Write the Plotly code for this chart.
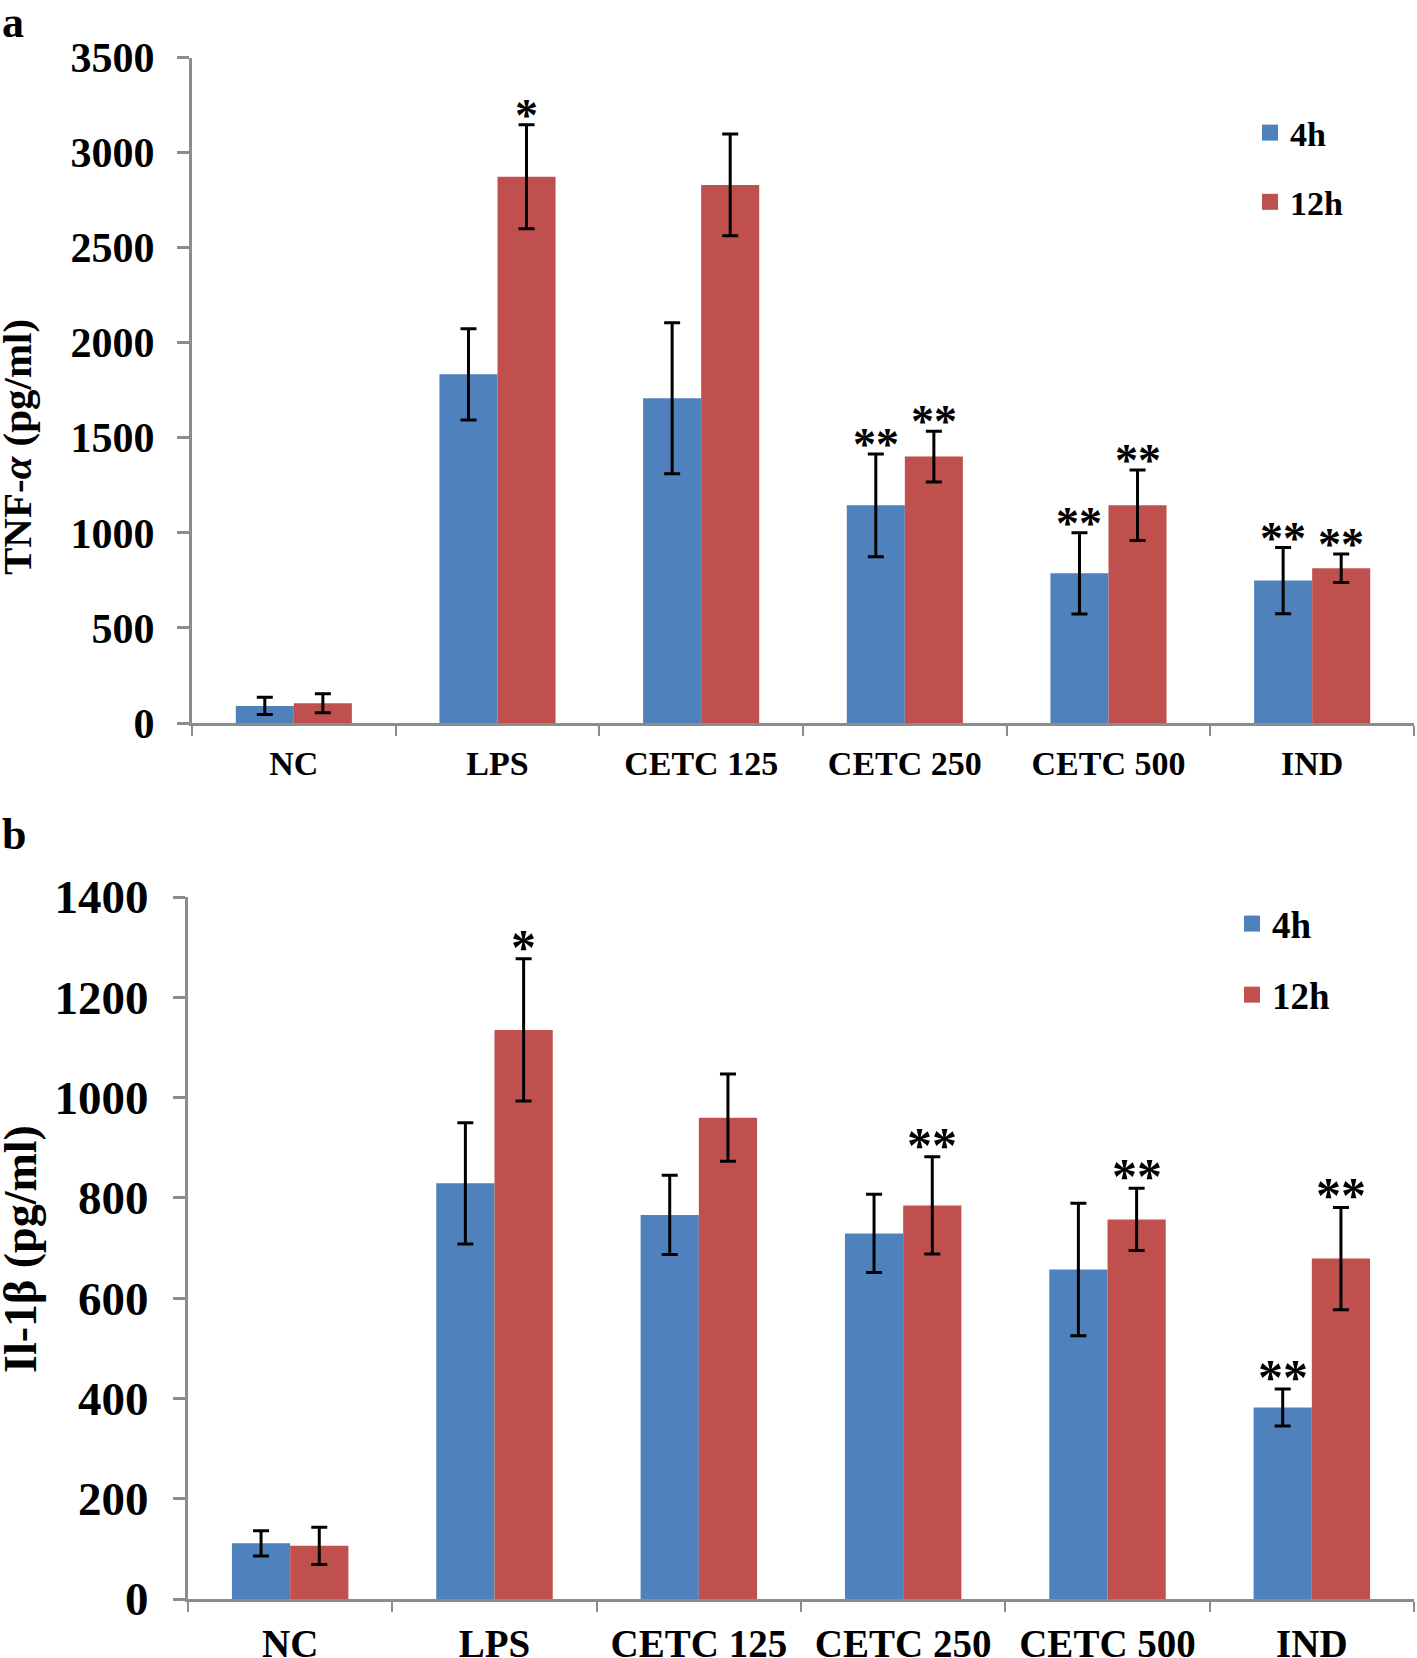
import plotly.graph_objects as go

categories = ["NC", "LPS", "CETC 125", "CETC 250", "CETC 500", "IND"]

tnf_4h = [90, 1834, 1708, 1145, 787, 749]
tnf_4h_err = [45, 240, 397, 270, 214, 174]
tnf_12h = [104, 2873, 2830, 1401, 1145, 814]
tnf_12h_err = [50, 273, 268, 133, 185, 75]
tnf_stars_4h = ["", "", "", "**", "**", "**"]
tnf_stars_12h = ["", "*", "", "**", "**", "**"]

il_4h = [111, 829, 766, 729, 657, 382]
il_4h_err = [25, 121, 79, 78, 132, 37]
il_12h = [106, 1135, 960, 785, 757, 679]
il_12h_err = [37, 142, 87, 97, 62, 102]
il_stars_4h = ["", "", "", "", "", "**"]
il_stars_12h = ["", "*", "", "**", "**", "**"]

series_names = ["4h", "12h"]
BLUE = "#4F81BD"
RED = "#C0504D"
AXIS = "#8C8C8C"
FONT = "Liberation Serif, Times New Roman, serif"

W, H = 1417, 1658
BARGAP = 0.43

fig = go.Figure()

def add_panel(vals4, err4, vals12, err12, xa, ya, legend):
    for name, vals, errs, color in [(series_names[0], vals4, err4, BLUE),
                                    (series_names[1], vals12, err12, RED)]:
        fig.add_trace(go.Bar(
            x=categories, y=vals, name=name, marker=dict(color=color, line=dict(width=0)),
            error_y=dict(type="data", array=errs, color="black", thickness=3, width=8),
            xaxis=xa, yaxis=ya, showlegend=False, offsetgroup=name,
        ))
        # legend-only entry with bigger square symbol
        fig.add_trace(go.Scatter(
            x=[None], y=[None], mode="markers", name=name,
            marker=dict(symbol="square", size=16, color=color),
            xaxis=xa, yaxis=ya, legend=legend, legendgroup=legend + name,
            showlegend=True,
        ))

add_panel(tnf_4h, tnf_4h_err, tnf_12h, tnf_12h_err, "x", "y", "legend")
add_panel(il_4h, il_4h_err, il_12h, il_12h_err, "x2", "y2", "legend2")

# domains (pixel-based)
top_x = [192 / W, 1414 / W]
bot_x = [188 / W, 1414 / W]
top_y = [1 - 723 / H, 1 - 57.5 / H]
bot_y = [1 - 1599 / H, 1 - 897 / H]

cat_w_top = (top_x[1] - top_x[0]) * W / len(categories)
cat_w_bot = (bot_x[1] - bot_x[0]) * W / len(categories)

annotations = []

def add_stars(stars4, stars12, v4, e4, v12, e12, xref, yref, catw, size, yshift):
    half = catw * (1 - BARGAP) / 4
    for i, c in enumerate(categories):
        for stars, vals, errs, sh in [(stars4, v4, e4, -half), (stars12, v12, e12, half)]:
            if stars[i]:
                annotations.append(dict(
                    x=c, y=vals[i] + errs[i], xref=xref, yref=yref, text="<b>" + stars[i] + "</b>",
                    showarrow=False, xshift=sh, yshift=yshift, yanchor="bottom",
                    font=dict(family=FONT, size=size, color="black"),
                ))

add_stars(tnf_stars_4h, tnf_stars_12h, tnf_4h, tnf_4h_err, tnf_12h, tnf_12h_err,
          "x", "y", cat_w_top, 46, -18)
add_stars(il_stars_4h, il_stars_12h, il_4h, il_4h_err, il_12h, il_12h_err,
          "x2", "y2", cat_w_bot, 50, -18)

# axis titles and panel labels
annotations += [
    dict(text="<b>TNF-<i>α</i> (pg/ml)</b>", x=17 / W, y=1 - 447 / H, xref="paper", yref="paper",
         textangle=-90, showarrow=False, xanchor="center", yanchor="middle",
         font=dict(family=FONT, size=41, color="black")),
    dict(text="<b>Il-1β (pg/ml)</b>", x=20 / W, y=1 - 1249 / H, xref="paper", yref="paper",
         textangle=-90, showarrow=False, xanchor="center", yanchor="middle",
         font=dict(family=FONT, size=46, color="black")),
    dict(text="<b>a</b>", x=0, y=1 + 4 / H, xref="paper", yref="paper", showarrow=False,
         xanchor="left", yanchor="top", font=dict(family=FONT, size=44, color="black")),
    dict(text="<b>b</b>", x=0, y=1 - 808 / H, xref="paper", yref="paper", showarrow=False,
         xanchor="left", yanchor="top", font=dict(family=FONT, size=44, color="black")),
]

def xaxis_style(domain, anchor, size):
    return dict(domain=domain, anchor=anchor, type="category", showline=True, linecolor=AXIS,
                linewidth=3, ticks="outside", tickson="boundaries", ticklen=10, tickwidth=2,
                tickcolor=AXIS, showgrid=False, zeroline=False,
                tickfont=dict(family=FONT, size=size, color="black", weight="bold"),
                ticklabelstandoff=8, automargin=False, fixedrange=True)

def yaxis_style(domain, anchor, rng, dtick, size, standoff):
    return dict(domain=domain, anchor=anchor, range=rng, dtick=dtick, tick0=0, showline=True,
                linecolor=AXIS, linewidth=3, ticks="outside", ticklen=12, tickwidth=2.5,
                tickcolor=AXIS, showgrid=False, zeroline=False,
                tickfont=dict(family=FONT, size=size, color="black", weight="bold"),
                ticklabelstandoff=standoff, automargin=False, fixedrange=True)

fig.update_layout(
    width=W, height=H, margin=dict(l=0, r=0, t=0, b=0),
    paper_bgcolor="white", plot_bgcolor="white",
    barmode="group", bargap=BARGAP, bargroupgap=0,
    xaxis=xaxis_style(top_x, "y", 34),
    yaxis=yaxis_style(top_y, "x", [0, 3500], 500, 42, 14),
    xaxis2=xaxis_style(bot_x, "y2", 39),
    yaxis2=yaxis_style(bot_y, "x2", [0, 1400], 200, 47, 15),
    legend=dict(x=1250 / W, y=1 - 104 / H, xanchor="left", yanchor="top",
                font=dict(family=FONT, size=34, color="black", weight="bold"),
                tracegroupgap=22, bgcolor="rgba(0,0,0,0)"),
    legend2=dict(x=1232 / W, y=1 - 893 / H, xanchor="left", yanchor="top",
                 font=dict(family=FONT, size=37, color="black", weight="bold"),
                 tracegroupgap=20, bgcolor="rgba(0,0,0,0)"),
    annotations=annotations,
    showlegend=True,
)

fig.write_html("out.html", config={"displayModeBar": False},
               post_script="document.body.style.margin='0';")
